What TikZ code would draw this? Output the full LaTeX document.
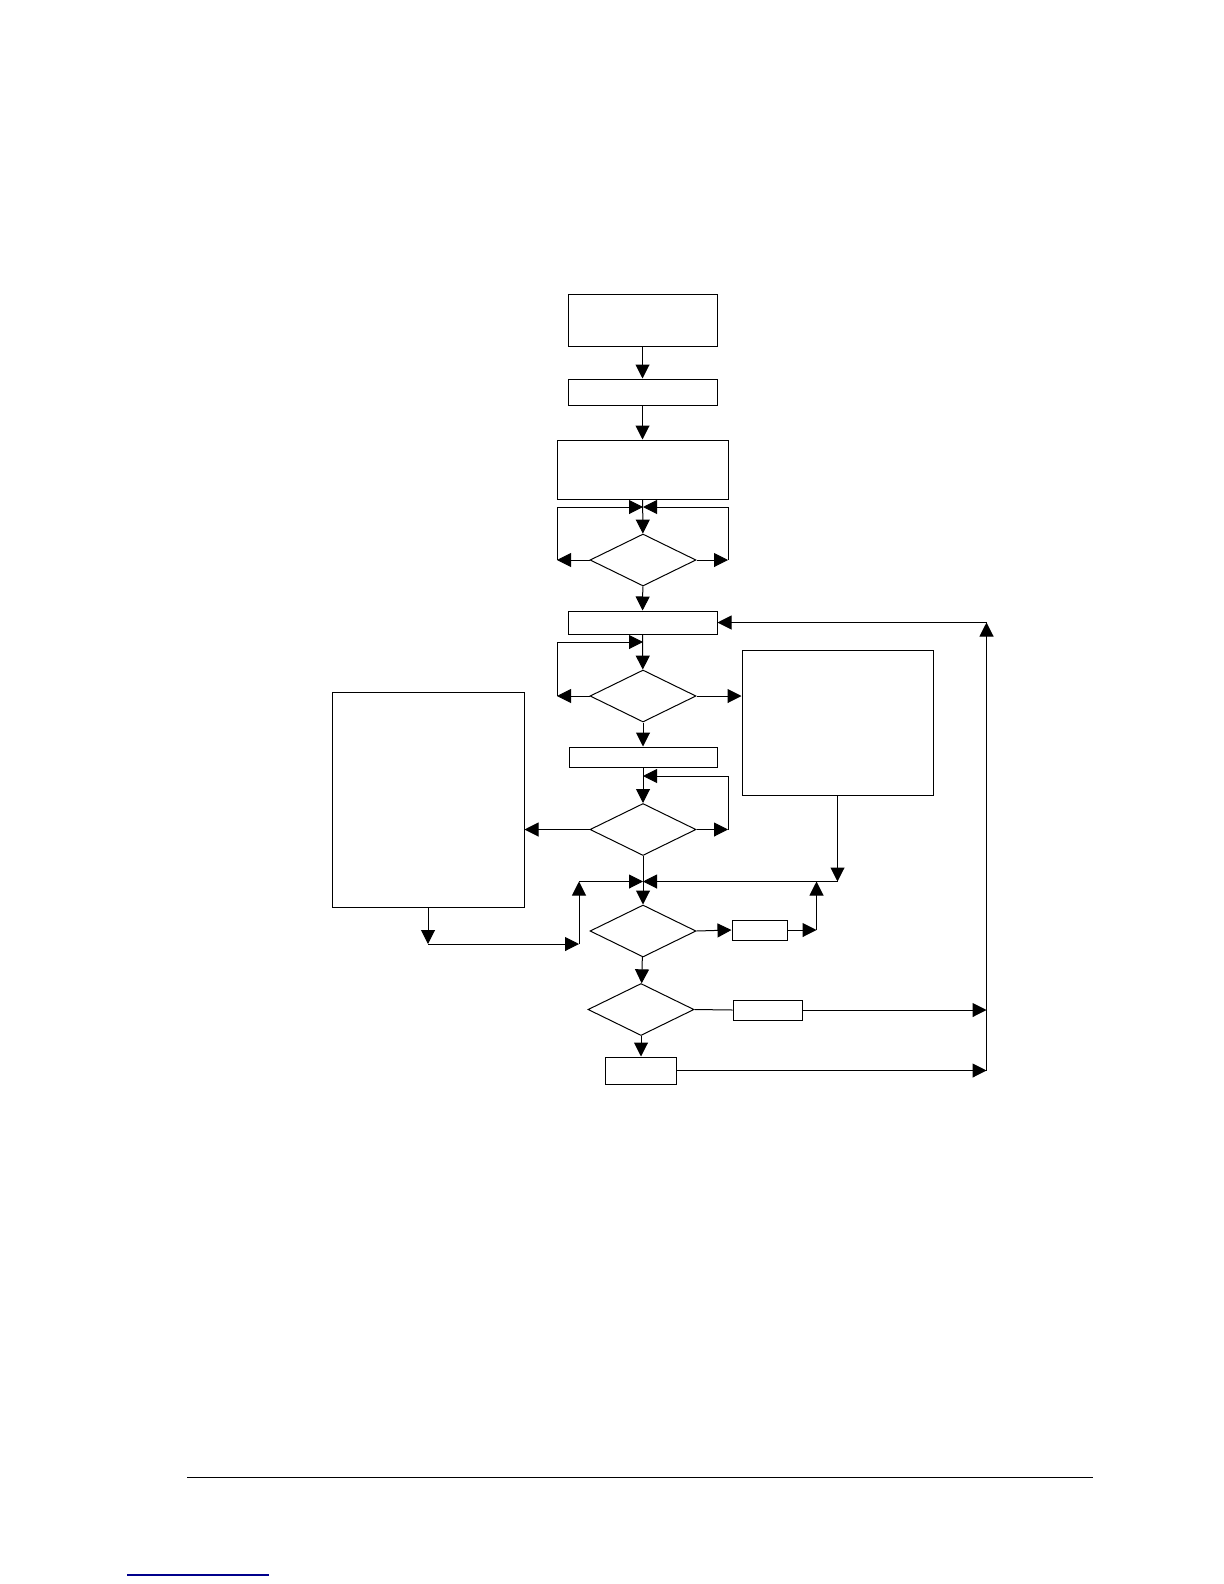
\documentclass[tikz,border=0pt]{standalone}
\usetikzlibrary{arrows.meta, positioning, shapes.geometric}

\begin{document}
\begin{tikzpicture}[x=0.5pt, y=-0.5pt, line width=0.5pt,
    box/.style={rectangle, draw, inner sep=0pt},
    dec/.style={diamond, draw, inner sep=0pt, minimum width=53pt, minimum height=26pt},
    arr/.style={-{Triangle[length=7pt, width=7pt]}}]
  \useasboundingbox (0,0) rectangle (1224,1584);

  % main column
  \node[box, minimum width=74.5pt, minimum height=26pt] (start) at (642.5,320) {};
  \node[box, minimum width=74.5pt, minimum height=13pt] (init) at (642.5,392) {};
  \node[box, minimum width=85.5pt, minimum height=29.5pt] (setup) at (642.5,469.5) {};
  \node[dec] (q1) at (643,560) {};
  \node[box, minimum width=74.5pt, minimum height=11.5pt] (read) at (642.5,622.5) {};
  \node[dec] (q2) at (643,696) {};
  \node[box, minimum width=74pt, minimum height=10pt] (proc) at (643,757) {};
  \node[dec] (q3) at (643,829.5) {};
  \node[dec] (q4) at (643,931) {};
  \node[dec] (q5) at (641,1009.5) {};
  \node[box, minimum width=35.5pt, minimum height=13.5pt] (stop) at (641,1070.5) {};

  % side boxes
  \node[box, minimum width=95.5pt, minimum height=72.5pt] (right) at (837.5,722.5) {};
  \node[box, minimum width=96pt, minimum height=107.5pt] (left) at (428,799.5) {};
  \node[box, minimum width=27.5pt, minimum height=10pt] (s1) at (759.5,930) {};
  \node[box, minimum width=34.5pt, minimum height=10pt] (s2) at (767.5,1010) {};

  % junctions and bends
  \coordinate (j1) at (643,507);
  \coordinate (j2) at (643,642);
  \coordinate (j3) at (643,776);
  \coordinate (j4) at (643,881.5);
  \coordinate (q1l) at (557,560);
  \coordinate (q1r) at (728,560);
  \coordinate (q2l) at (557,696);
  \coordinate (q3r) at (728,829.5);
  \coordinate (lb) at (428,944);
  \coordinate (lc) at (579,944);
  \coordinate (lu) at (579,881.5);
  \coordinate (s1r) at (816.5,930);
  \coordinate (rt) at (986.5,622.5);
  \coordinate (rm) at (986.5,1010);
  \coordinate (rb) at (986.5,1070.5);

  % main flow
  \draw[arr] (start) -- (init);
  \draw[arr] (init) -- (setup);
  \draw[arr] (setup) -- (q1);
  \draw[arr] (q1) -- (read);
  \draw[arr] (read) -- (q2);
  \draw[arr] (q2) -- (proc);
  \draw[arr] (proc) -- (q3);
  \draw[arr] (q3) -- (q4);
  \draw[arr] (q4) -- (q5);
  \draw[arr] (q5) -- (stop);

  % loops
  \draw[arr] (q1.west) -- (q1l);
  \draw[arr] (q1l) |- (j1);
  \draw[arr] (q1.east) -- (q1r);
  \draw[arr] (q1r) |- (j1);
  \draw[arr] (q2.west) -- (q2l);
  \draw[arr] (q2l) |- (j2);
  \draw[arr] (q2.east) -- (right.west |- q2.east);
  \draw[arr] (q3.east) -- (q3r);
  \draw[arr] (q3r) |- (j3);
  \draw[arr] (q3.west) -- (left.east |- q3.west);

  % back into the column
  \draw[arr] (left.south) -- (lb);
  \draw[arr] (lb) -- (lc);
  \draw[arr] (lc) -- (lu);
  \draw[arr] (lu) -- (j4);
  \draw[arr] (right.south) -- (right.south |- j4);
  \draw[arr] (right.south |- j4) -- (j4);
  \draw[arr] (q4.east) -- (s1.west);
  \draw[arr] (s1.east) -- (s1r);
  \draw[arr] (s1r) -- (s1r |- j4);

  % return line
  \draw (q5.east) -- (s2.west);
  \draw[arr] (s2.east) -- (rm);
  \draw[arr] (stop.east) -- (rb);
  \draw[arr] (rb) -- (rt);
  \draw[arr] (rt) -- (read.east);

  % page rule and link
  \draw (187,1477) -- (1093,1477);
  \draw[blue!55!black, line width=0.8pt] (127,1575) -- (269,1575);
\end{tikzpicture}
\end{document}
